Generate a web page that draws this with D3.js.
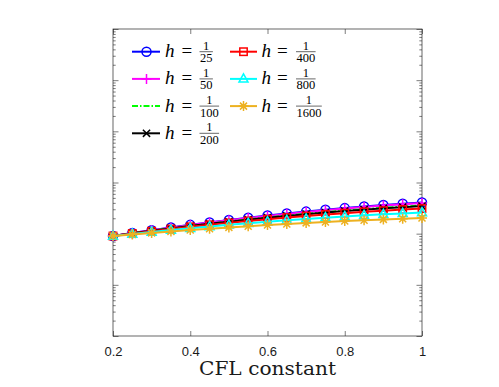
<!DOCTYPE html>
<html><head><meta charset="utf-8">
<script src="https://cdn.jsdelivr.net/npm/d3@7"></script>
<style>body{margin:0;background:#fff}</style>
</head><body>
<svg id="c" width="499" height="387"></svg>
<script>
// ---- data ----
const cfl = [0.2,0.25,0.3,0.35,0.4,0.45,0.5,0.55,0.6,0.65,0.7,0.75,0.8,0.85,0.9,0.95,1.0];
const xTicks = [0.2,0.4,0.6,0.8,1];
const yDomain = [1e-6, 1];
const denominators = ["25","50","100","200","400","800","1600"];
const h25   = [9.0e-5,1.028e-4,1.168e-4,1.320e-4,1.486e-4,1.662e-4,1.850e-4,2.049e-4,2.257e-4,2.474e-4,2.697e-4,2.926e-4,3.157e-4,3.389e-4,3.619e-4,3.845e-4,4.064e-4];
const h50   = [9.0e-5,1.026e-4,1.163e-4,1.312e-4,1.475e-4,1.647e-4,1.830e-4,2.024e-4,2.226e-4,2.437e-4,2.653e-4,2.875e-4,3.098e-4,3.323e-4,3.544e-4,3.762e-4,3.973e-4];
const h100  = [9.0e-5,1.016e-4,1.141e-4,1.276e-4,1.420e-4,1.573e-4,1.734e-4,1.904e-4,2.079e-4,2.260e-4,2.444e-4,2.633e-4,2.822e-4,3.009e-4,3.195e-4,3.376e-4,3.551e-4];
const h200  = [9.0e-5,1.014e-4,1.136e-4,1.268e-4,1.409e-4,1.558e-4,1.715e-4,1.880e-4,2.050e-4,2.225e-4,2.403e-4,2.586e-4,2.768e-4,2.948e-4,3.127e-4,3.301e-4,3.469e-4];
const h400  = [9.0e-5,1.004e-4,1.115e-4,1.233e-4,1.358e-4,1.489e-4,1.625e-4,1.768e-4,1.914e-4,2.063e-4,2.214e-4,2.367e-4,2.520e-4,2.670e-4,2.818e-4,2.962e-4,3.099e-4];
const h800  = [9.0e-5,9.88e-5,1.081e-4,1.178e-4,1.279e-4,1.384e-4,1.492e-4,1.602e-4,1.715e-4,1.829e-4,1.943e-4,2.057e-4,2.169e-4,2.280e-4,2.388e-4,2.491e-4,2.590e-4];
const h1600 = [9.0e-5,9.67e-5,1.036e-4,1.106e-4,1.178e-4,1.252e-4,1.326e-4,1.401e-4,1.476e-4,1.550e-4,1.624e-4,1.696e-4,1.767e-4,1.836e-4,1.902e-4,1.965e-4,2.024e-4];

const series = [
  {den:denominators[0], v:h25,   color:"#0000FF", marker:"circle"},
  {den:denominators[1], v:h50,   color:"#FF00FF", marker:"plus"},
  {den:denominators[2], v:h100,  color:"#00FF00", marker:"none", dash:"6,2,1.5,2"},
  {den:denominators[3], v:h200,  color:"#000000", marker:"x"},
  {den:denominators[4], v:h400,  color:"#FF0000", marker:"square"},
  {den:denominators[5], v:h800,  color:"#00FFFF", marker:"triangle"},
  {den:denominators[6], v:h1600, color:"#EDB120", marker:"star"}
];

const svg = d3.select("#c");
const L=113, R=422, T=29, B=336;
const x = d3.scaleLinear().domain([0.2,1]).range([L,R]);
const y = d3.scaleLog().domain(yDomain).range([B,T]);
const axisColor = "#262626";

// ---- axes / ticks ----
const majorY = [], minorY = [];
for (let e=-6; e<=0; e++) { majorY.push(Math.pow(10,e)); if (e<0) for (let k=2;k<=9;k++) minorY.push(k*Math.pow(10,e)); }

function styleAxis(g){ g.select(".domain").remove(); g.selectAll("line").attr("stroke",axisColor).attr("stroke-width",0.6); }
svg.append("g").attr("transform",`translate(0,${B})`)
  .call(d3.axisBottom(x).tickValues(xTicks).tickSize(-5).tickPadding(10.5).tickFormat(d=>String(d)))
  .call(styleAxis)
  .call(g=>g.selectAll("text").attr("font-family","Liberation Sans, Arial, sans-serif").attr("font-size",13).attr("fill","#1a1a1a"));
svg.append("g").attr("transform",`translate(0,${T})`)
  .call(d3.axisTop(x).tickValues(xTicks).tickSize(-5).tickFormat(""))
  .call(styleAxis);
svg.append("g").attr("transform",`translate(${L},0)`)
  .call(d3.axisLeft(y).tickValues(majorY).tickSize(-5.5).tickFormat("")).call(styleAxis);
svg.append("g").attr("transform",`translate(${L},0)`)
  .call(d3.axisLeft(y).tickValues(minorY).tickSize(-2.7).tickFormat("")).call(styleAxis);
svg.append("g").attr("transform",`translate(${R},0)`)
  .call(d3.axisRight(y).tickValues(majorY).tickSize(-5.5).tickFormat("")).call(styleAxis);
svg.append("g").attr("transform",`translate(${R},0)`)
  .call(d3.axisRight(y).tickValues(minorY).tickSize(-2.7).tickFormat("")).call(styleAxis);

svg.append("rect").attr("x",L).attr("y",T).attr("width",R-L).attr("height",B-T)
  .attr("fill","none").attr("stroke",axisColor).attr("stroke-width",0.7);

svg.append("text").attr("x",(L+R)/2).attr("y",375).attr("text-anchor","middle")
  .attr("font-family","DejaVu Serif, serif").attr("font-size",18)
  .attr("textLength",137).attr("lengthAdjust","spacingAndGlyphs").attr("fill","#1a1a1a")
  .text("CFL constant");

// ---- markers ----
function drawMarker(g, type, cx, cy, color){
  const sw=1.5;
  if (type==="circle") g.append("circle").attr("cx",cx).attr("cy",cy).attr("r",4.5).attr("fill","none").attr("stroke",color).attr("stroke-width",sw);
  else if (type==="square") g.append("rect").attr("x",cx-3.7).attr("y",cy-3.7).attr("width",7.4).attr("height",7.4).attr("fill","none").attr("stroke",color).attr("stroke-width",sw);
  else if (type==="triangle") g.append("path").attr("d",`M${cx},${cy-5}L${cx+4.5},${cy+3.2}L${cx-4.5},${cy+3.2}Z`).attr("fill","none").attr("stroke",color).attr("stroke-width",sw);
  else if (type==="plus") g.append("path").attr("d",`M${cx-5},${cy}H${cx+5}M${cx},${cy-5}V${cy+5}`).attr("stroke",color).attr("stroke-width",sw);
  else if (type==="x") g.append("path").attr("d",`M${cx-3.6},${cy-3.6}L${cx+3.6},${cy+3.6}M${cx-3.6},${cy+3.6}L${cx+3.6},${cy-3.6}`).attr("stroke",color).attr("stroke-width",sw);
  else if (type==="star") g.append("path").attr("d",`M${cx-5},${cy}H${cx+5}M${cx},${cy-5}V${cy+5}M${cx-3.5},${cy-3.5}L${cx+3.5},${cy+3.5}M${cx-3.5},${cy+3.5}L${cx+3.5},${cy-3.5}`).attr("stroke",color).attr("stroke-width",sw);
}

const plot = svg.append("g");
const line = d3.line().x((d,i)=>x(cfl[i])).y(d=>y(d));
series.forEach(s=>{
  const g = plot.append("g");
  g.append("path").attr("d",line(s.v)).attr("fill","none").attr("stroke",s.color)
    .attr("stroke-width",2).attr("stroke-dasharray",s.dash||null);
  if (s.marker!=="none") s.v.forEach((d,i)=>drawMarker(g,s.marker,x(cfl[i]),y(d),s.color));
});

// ---- legend ----
const leg = svg.append("g");
const cols = [{x0:132, xm:146.5, x1:160, hx:165, eqx:181.5, fx:200}, {x0:230, xm:243.5, x1:257, hx:261.5, eqx:277, fx:296.5}];
series.forEach((s,i)=>{
  const c = i<4 ? cols[0] : cols[1];
  const r = i<4 ? i : i-4;
  const yc = 51.7 + r*27.2;
  const g = leg.append("g");
  g.append("line").attr("x1",c.x0).attr("x2",c.x1).attr("y1",yc).attr("y2",yc).attr("stroke",s.color)
    .attr("stroke-width",2).attr("stroke-dasharray",s.dash||null);
  if (s.marker!=="none") drawMarker(g,s.marker,c.xm,yc,s.color);
  g.append("text").attr("x",c.hx).attr("y",yc+5.5).attr("font-family","Liberation Serif, serif")
    .attr("font-style","italic").attr("font-size",19).text("h");
  g.append("text").attr("x",c.eqx).attr("y",yc+5.5).attr("font-family","Liberation Serif, serif")
    .attr("font-size",19).text("=");
  const fw = s.den.length*6.2;
  const fc = c.fx + fw/2;
  g.append("text").attr("x",fc).attr("y",yc-2.2).attr("text-anchor","middle").attr("font-family","Liberation Serif, serif").attr("font-size",12.5).text("1");
  g.append("line").attr("x1",c.fx-0.5).attr("x2",c.fx+fw+0.5).attr("y1",yc).attr("y2",yc).attr("stroke","#000").attr("stroke-width",0.6);
  g.append("text").attr("x",fc).attr("y",yc+10.5).attr("text-anchor","middle").attr("font-family","Liberation Serif, serif").attr("font-size",12.5).text(s.den);
});
</script>
</body></html>
